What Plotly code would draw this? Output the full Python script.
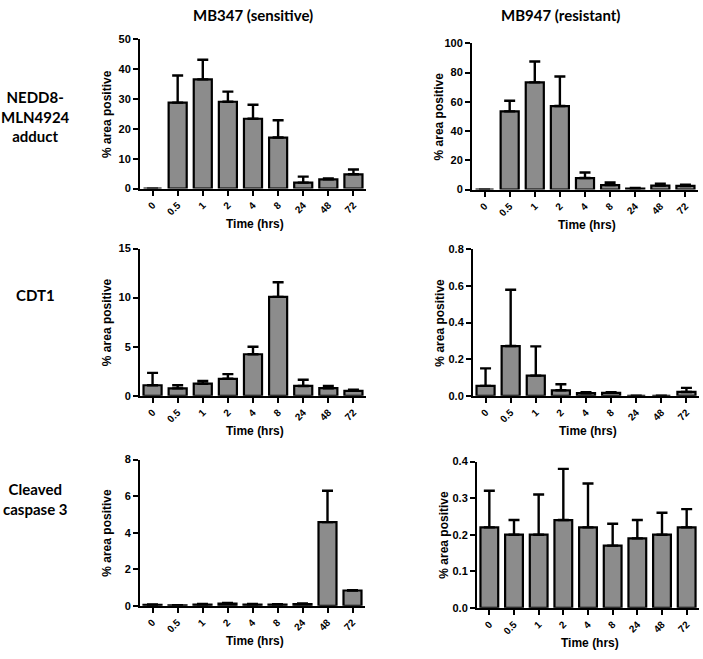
import plotly.graph_objects as go

W, H = 703, 659

time_labels = ["0", "0.5", "1", "2", "4", "8", "24", "48", "72"]

nedd8_mb347_mean = [0, 28.8, 36.6, 29.1, 23.4, 17.1, 2.0, 3.1, 4.8]
nedd8_mb347_err = [0, 9.1, 6.6, 3.4, 4.7, 5.8, 2.0, 0.3, 1.6]
nedd8_mb947_mean = [0, 53.5, 73.3, 57.1, 7.9, 3.1, 0.7, 2.7, 2.5]
nedd8_mb947_err = [0, 7.2, 14.3, 20.2, 3.8, 1.8, 0.4, 1.3, 0.9]

cdt1_mb347_mean = [1.07, 0.75, 1.23, 1.73, 4.23, 10.07, 1.0, 0.77, 0.5]
cdt1_mb347_err = [1.26, 0.32, 0.27, 0.47, 0.77, 1.5, 0.63, 0.23, 0.13]
cdt1_mb947_mean = [0.054, 0.272, 0.11, 0.03, 0.014, 0.016, 0, 0, 0.021]
cdt1_mb947_err = [0.096, 0.308, 0.16, 0.033, 0.006, 0.004, 0, 0, 0.022]

casp_mb347_mean = [0.05, 0.03, 0.07, 0.12, 0.07, 0.07, 0.1, 4.58, 0.84]
casp_mb347_err = [0.03, 0.01, 0.03, 0.04, 0.03, 0.02, 0.03, 1.72, 0.02]
casp_mb947_mean = [0.22, 0.20, 0.20, 0.24, 0.22, 0.17, 0.19, 0.20, 0.22]
casp_mb947_err = [0.10, 0.04, 0.11, 0.14, 0.12, 0.06, 0.05, 0.06, 0.05]

col_titles = ["MB347 (sensitive)", "MB947 (resistant)"]
row_titles = ["NEDD8-<br>MLN4924<br>adduct", "CDT1", "Cleaved<br>caspase 3"]
y_title = "% area positive"
x_title = "Time (hrs)"

# panel definitions: (means, errs, ymax, dtick, tickformat, x0px, x1px, ytop_px, y0_px)
panels = [
    (nedd8_mb347_mean, nedd8_mb347_err, 50, 10, "d", 140, 366, 34, 186),
    (nedd8_mb947_mean, nedd8_mb947_err, 100, 20, "d", 472, 698, 38, 187),
    (cdt1_mb347_mean, cdt1_mb347_err, 15, 5, "d", 140, 366, 247, 397),
    (cdt1_mb947_mean, cdt1_mb947_err, 0.8, 0.2, ".1f", 473, 699, 248, 397),
    (casp_mb347_mean, casp_mb347_err, 8, 2, "d", 140, 365, 462, 611),
    (casp_mb947_mean, casp_mb947_err, 0.4, 0.1, ".1f", 477, 699, 464, 613),
]

def px_x(v):
    return v / W

def px_y(v):
    return 1 - v / H

AX_FONT = "Liberation Sans, Arial, sans-serif"
LBL_FONT = "Lato, Open Sans, sans-serif"

fig = go.Figure()
layout = dict(
    width=W, height=H, autosize=False,
    margin=dict(l=0, r=0, t=0, b=0),
    paper_bgcolor="white", plot_bgcolor="white",
    showlegend=False, bargap=0.28,
)
annotations = []

for i, (m, e, ymax, dt, fmt, x0, x1, yt, yb) in enumerate(panels):
    n = i + 1
    xa = "x" if n == 1 else f"x{n}"
    ya = "y" if n == 1 else f"y{n}"
    fig.add_trace(go.Bar(
        x=time_labels, y=m, xaxis=xa, yaxis=ya,
        marker=dict(color="#8c8c8c", line=dict(color="black", width=2.2)),
        error_y=dict(type="data", array=e, arrayminus=[0] * len(e), symmetric=False,
                     color="black", thickness=2.4, width=5.5),
        width=0.72,
    ))
    xkey = "xaxis" if n == 1 else f"xaxis{n}"
    ykey = "yaxis" if n == 1 else f"yaxis{n}"
    layout[xkey] = dict(
        domain=[px_x(x0), px_x(x1)], anchor=ya, type="category",
        categoryorder="array", categoryarray=time_labels,
        range=[-0.5, 8.5], showline=True, linecolor="black", linewidth=2,
        ticks="outside", ticklen=5, tickwidth=2, tickcolor="black",
        tickangle=-45, showgrid=False, zeroline=False,
        tickfont=dict(family=AX_FONT, size=10, color="black", weight="bold"),
    )
    layout[ykey] = dict(
        domain=[px_y(yb), px_y(yt)], anchor=xa, range=[0, ymax], dtick=dt,
        tickformat=fmt, showline=True, linecolor="black", linewidth=2,
        ticks="outside", ticklen=5, tickwidth=2, tickcolor="black",
        showgrid=False, zeroline=False,
        tickfont=dict(family=AX_FONT, size=11, color="black", weight="bold"),
    )
    # y axis title
    annotations.append(dict(
        text=y_title, x=px_x(x0 - 33), y=px_y((yt + yb) / 2), xref="paper", yref="paper",
        showarrow=False, textangle=-90, xanchor="center", yanchor="middle",
        font=dict(family=AX_FONT, size=12, color="black", weight="bold"),
    ))
    # x axis title
    annotations.append(dict(
        text=x_title, x=px_x((x0 + x1) / 2 + 2), y=px_y(yb + 36), xref="paper", yref="paper",
        showarrow=False, xanchor="center", yanchor="middle",
        font=dict(family=AX_FONT, size=12, color="black", weight="bold"),
    ))

# column titles
for cx, t in zip([253, 560], col_titles):
    annotations.append(dict(
        text=t, x=px_x(cx), y=px_y(9), xref="paper", yref="paper", showarrow=False,
        xanchor="center", yanchor="middle",
        font=dict(family=LBL_FONT, size=15, color="black", weight="bold"),
    ))

# row titles
for cy, t in zip([113, 294, 502], row_titles):
    annotations.append(dict(
        text=t, x=px_x(35), y=px_y(cy), xref="paper", yref="paper", showarrow=False,
        xanchor="center", yanchor="middle", align="center",
        font=dict(family=LBL_FONT, size=15, color="black", weight="bold"),
    ))

layout["annotations"] = annotations
fig.update_layout(**layout)
fig.write_html("out.html", config={"displayModeBar": False},
               post_script="document.body.style.margin='0px';")
